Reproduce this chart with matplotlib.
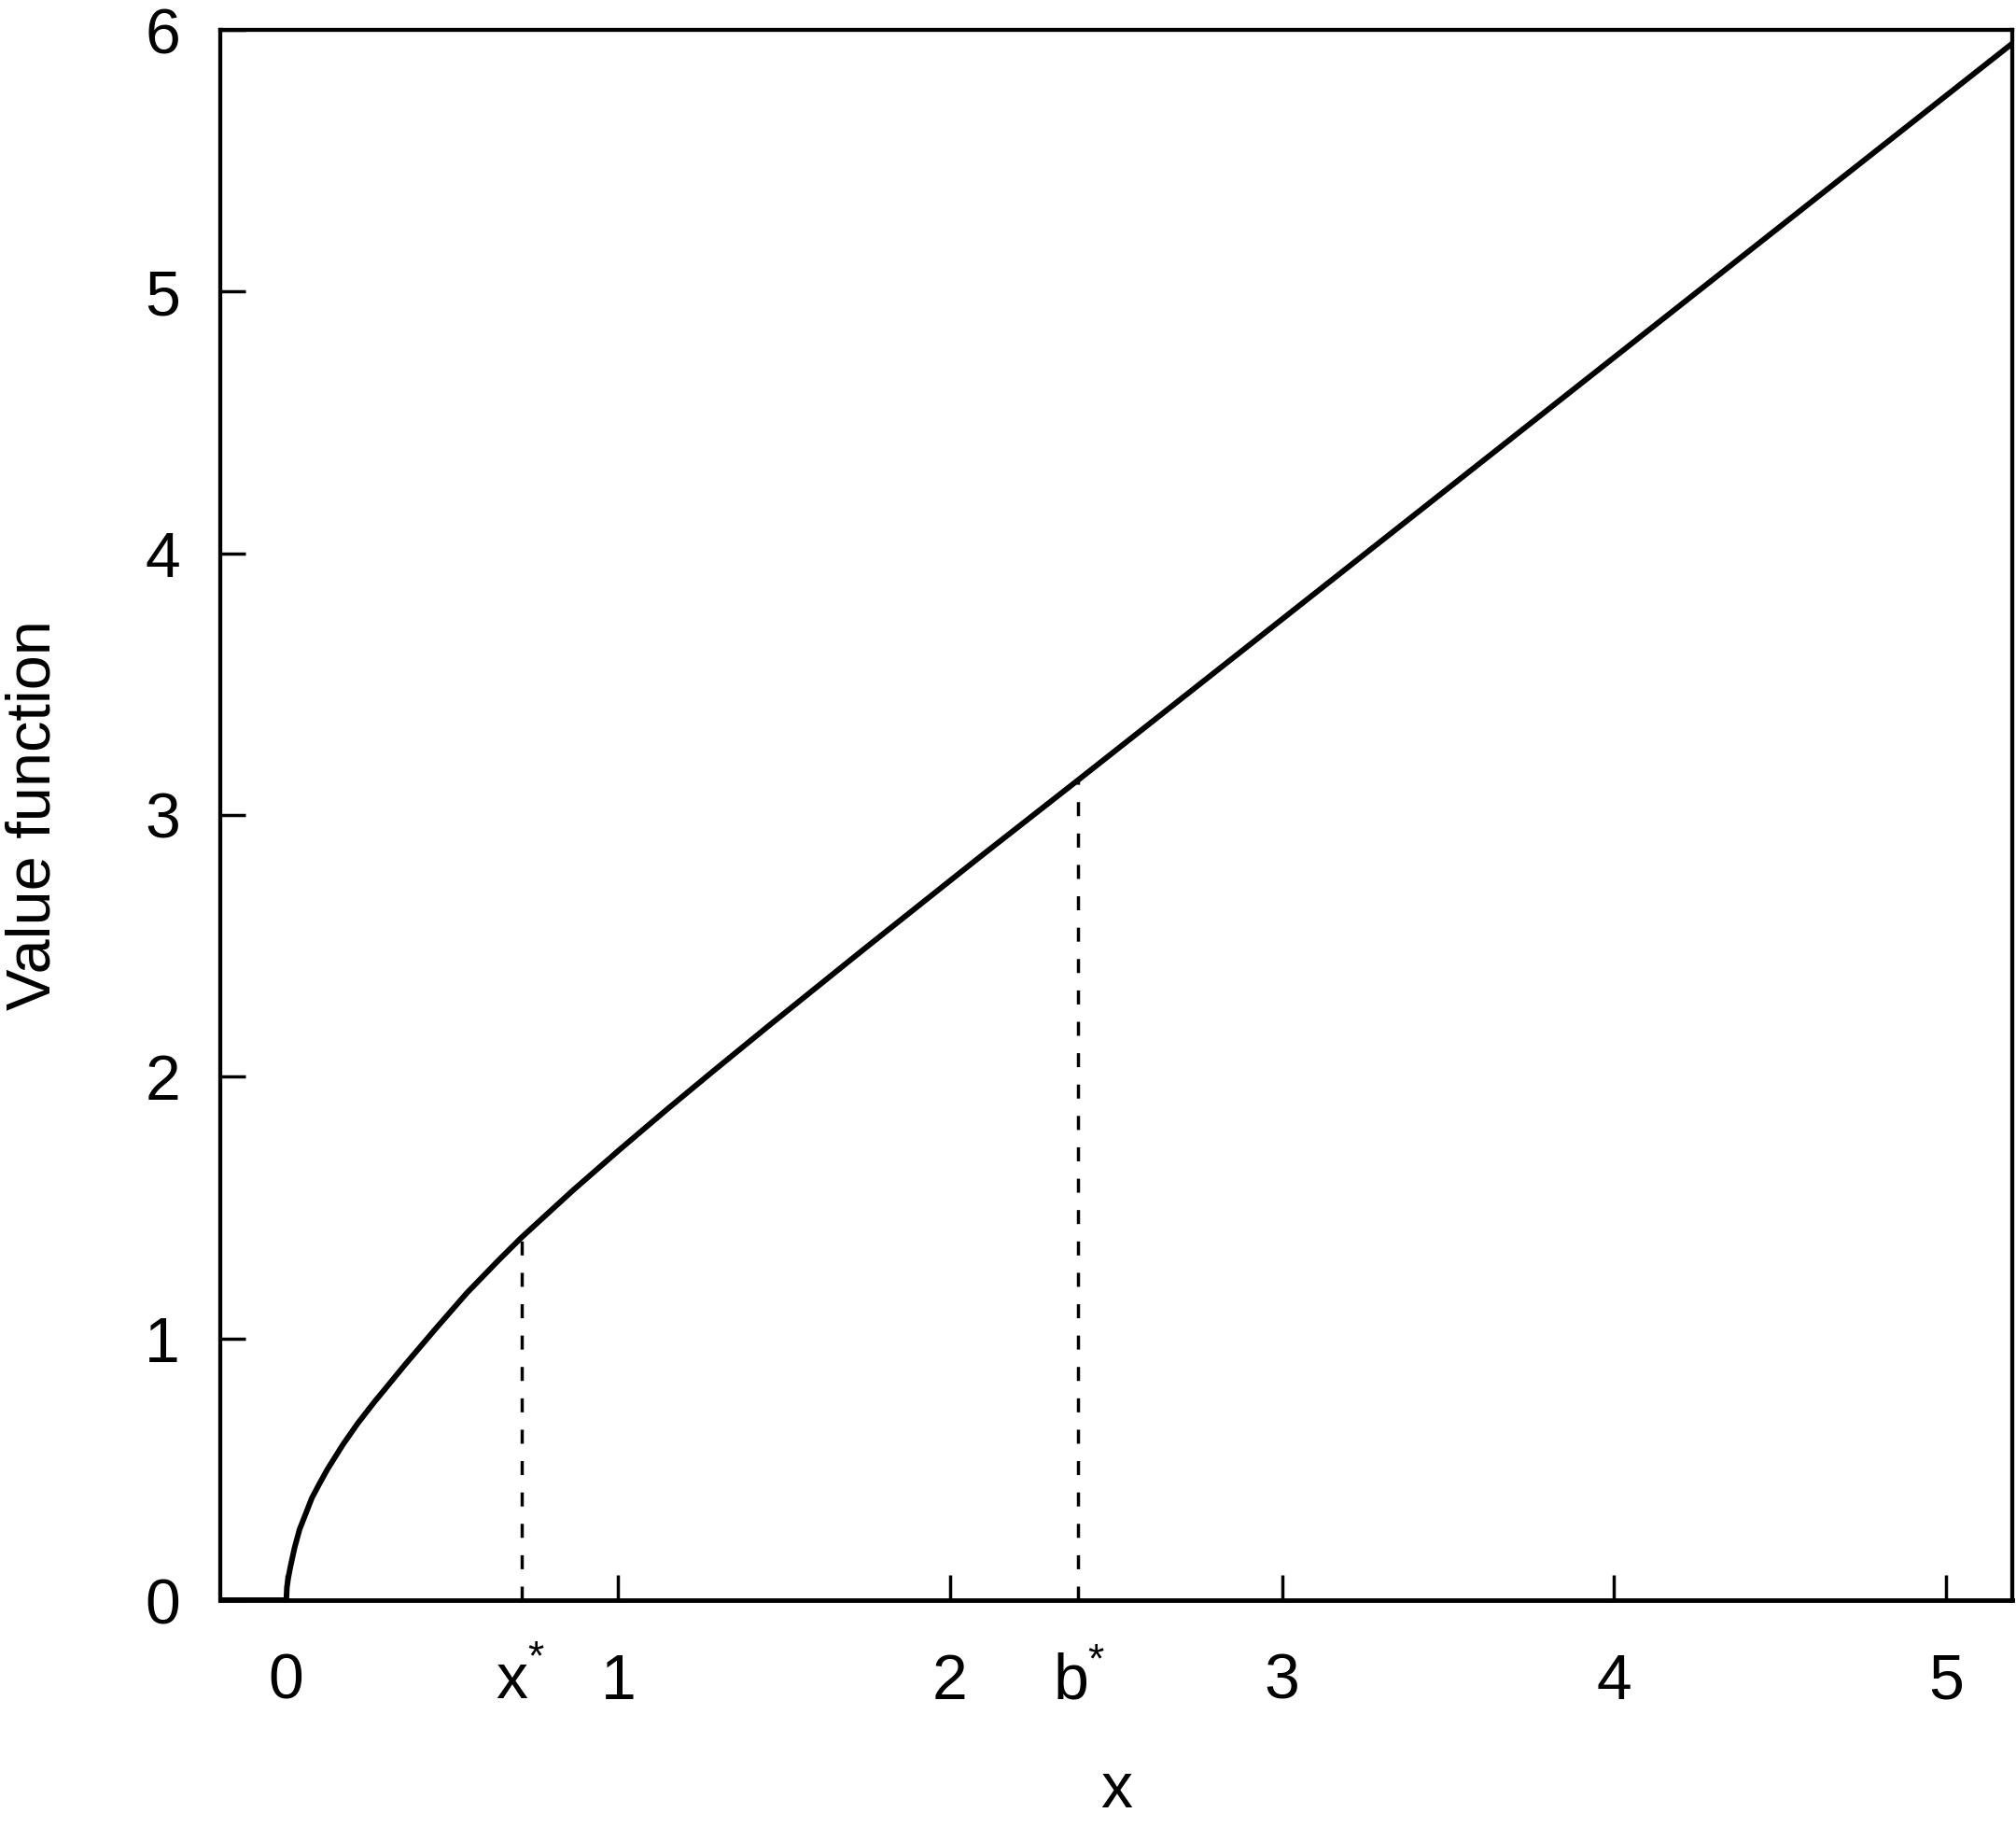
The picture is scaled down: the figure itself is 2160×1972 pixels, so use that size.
import matplotlib
matplotlib.use("Agg")
import matplotlib.pyplot as plt

# ---- data ----
x_vals = [-0.2, 0.0, 0.002, 0.006, 0.012, 0.025, 0.04, 0.077, 0.1, 0.124,
          0.171, 0.215, 0.264, 0.358, 0.452, 0.545, 0.639, 0.708, 0.863,
          1.003, 1.144, 1.284, 1.452, 1.738, 2.089, 2.386, 3.0, 4.0, 5.2]
v_vals = [0.0, 0.0, 0.05, 0.085, 0.125, 0.20, 0.27, 0.39, 0.445, 0.50,
          0.595, 0.675, 0.755, 0.90, 1.04, 1.175, 1.298, 1.385, 1.565,
          1.72, 1.872, 2.019, 2.193, 2.485, 2.839, 3.134, 3.748, 4.748, 5.948]
marker_x = [0.708, 2.386]          # x*, b*
marker_names = ["x", "b"]
x_ticks = [0, 1, 2, 3, 4, 5]
y_ticks = [0, 1, 2, 3, 4, 5, 6]

plt.rcParams['font.family'] = ['Liberation Sans', 'DejaVu Sans']
plt.rcParams['lines.scale_dashes'] = False

W, H = 2160, 1972
fig = plt.figure(figsize=(W / 100, H / 100), dpi=100)
left, right, top, bottom = 235.6, 2156.0, 32.0, 1714.0
ax = fig.add_axes([left / W, 1 - bottom / H, (right - left) / W, (bottom - top) / H])

ax.plot(x_vals, v_vals, color='black', lw=4.3, solid_capstyle='butt',
        solid_joinstyle='round')
for mx in marker_x:
    top_v = v_vals[x_vals.index(mx)]
    ax.plot([mx, mx], [0, top_v], color='black', lw=2.5,
            dashes=(10.8, 13.4), dash_capstyle='butt')

ax.set_xlim(-0.2, 5.2)
ax.set_ylim(0, 6)

ax.set_xticks(x_ticks)
ax.set_xticklabels([str(t) for t in x_ticks])
ax.set_yticks(y_ticks)
ax.set_yticklabels([str(t) for t in y_ticks])
ax.tick_params(axis='both', direction='in', length=19.5, width=2.5,
               labelsize=49, colors='black')
ax.tick_params(axis='x', pad=40)
ax.tick_params(axis='y', pad=30.5)

for s in ax.spines.values():
    s.set_linewidth(3.1)
ax.spines['bottom'].set_linewidth(3.5)

# x*, b* labels
offs = {"x": (-7.2, 11.2, -53.3), "b": (-5.8, 13.7, -55.4)}
for mx, nm in zip(marker_x, marker_names):
    dxl, dxs, dys = offs[nm]
    ax.annotate(nm, xy=(mx, 0), xycoords=('data', 'axes fraction'),
                xytext=(dxl, -75.6), textcoords='offset points',
                ha='center', va='baseline', fontsize=49)
    ax.annotate("*", xy=(mx, 0), xycoords=('data', 'axes fraction'),
                xytext=(dxs, dys), textcoords='offset points',
                ha='center', va='baseline', fontsize=32)

fig.text(1196 / W, 1 - 1936 / H, "x", ha='center', va='baseline', fontsize=49)
fig.text(37 / W, 1 - 873 / H, "Value function", rotation=90,
         ha='center', va='center', fontsize=48)

fig.savefig("out.png", dpi=100, facecolor='white')
